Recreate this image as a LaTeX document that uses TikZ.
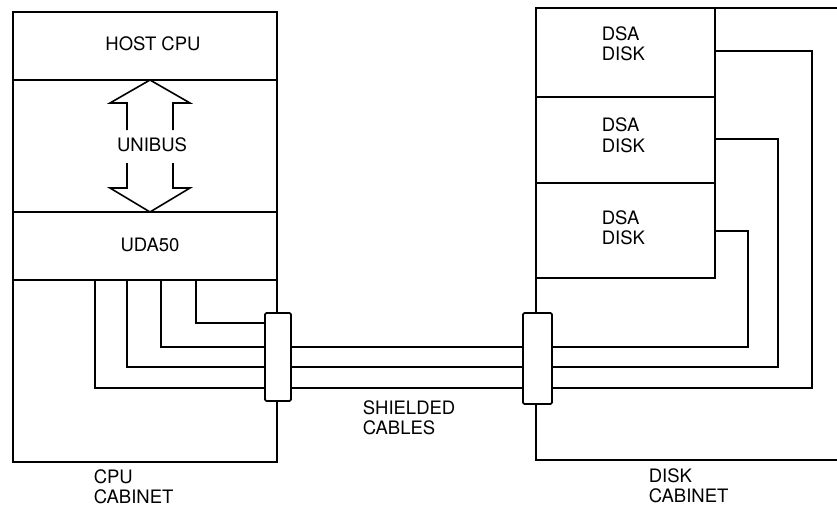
\documentclass[tikz,border=0pt]{standalone}
\usepackage{fontspec}
\setmainfont{TeX Gyre Heros}
\begin{document}
\begin{tikzpicture}[x=1pt,y=-1pt,line width=1.6pt,line join=miter,
  box/.style={draw,rectangle,inner sep=0pt,outer sep=0pt,anchor=north west},
  plug/.style={box,fill=white,rounded corners=1.5pt},
  lbl/.style={font=\fontsize{18.5}{20.5}\selectfont,inner sep=0pt,align=left},
  cable/.style={draw,line width=1.6pt}]
\useasboundingbox (0,0) rectangle (837,508);
% CPU cabinet
\node[box,minimum width=264,minimum height=450] (cpucab) at (13,12) {};
\node[box,minimum width=264,minimum height=68] (hostcpu) at (13,12) {};
\node[box,minimum width=264,minimum height=132] (unibus) at (13,80) {};
\node[box,minimum width=264,minimum height=68] (uda) at (13,212) {};
% Disk cabinet
\node[box,minimum width=330,minimum height=452] (diskcab) at (536,8) {};
\node[box,minimum width=179,minimum height=89] (disk1) at (536,8) {};
\node[box,minimum width=179,minimum height=86] (disk2) at (536,97) {};
\node[box,minimum width=179,minimum height=95] (disk3) at (536,183) {};
% connectors (positions)
\node[plug,minimum width=26,minimum height=88] (conn1) at (265,313) {};
\node[plug,minimum width=29,minimum height=91] (conn2) at (523,313) {};
% cables
\path[cable] (uda.south -| 95,0) |- (conn1.west |- 0,388);
\path[cable] (uda.south -| 127,0) |- (conn1.west |- 0,367);
\path[cable] (uda.south -| 161,0) |- (conn1.west |- 0,347);
\path[cable] (uda.south -| 196,0) |- (conn1.west |- 0,323);
\path[cable] (conn1.east |- 0,388) -- (conn2.west |- 0,388);
\path[cable] (conn1.east |- 0,367) -- (conn2.west |- 0,367);
\path[cable] (conn1.east |- 0,347) -- (conn2.west |- 0,347);
\path[cable] (conn2.east |- 0,388) -| (812,51) -- (disk1.east |- 0,51);
\path[cable] (conn2.east |- 0,367) -| (778,139) -- (disk2.east |- 0,139);
\path[cable] (conn2.east |- 0,347) -| (748,231) -- (disk3.east |- 0,231);
% connectors drawn on top
\node[plug,minimum width=26,minimum height=88] at (265,313) {};
\node[plug,minimum width=29,minimum height=91] at (523,313) {};
% UNIBUS double arrow
\draw (127,130) -- (127,103) -- (110,103) -- (150,80) -- (190,103) -- (173,103) -- (173,130);
\draw (127,163) -- (127,188) -- (110,188) -- (150,212) -- (190,188) -- (173,188) -- (173,163);
% labels
\node[lbl] (thost) at (153,44) {HOST CPU};
\node[lbl] (tunibus) at (152,145) {UNIBUS};
\node[lbl] (tuda) at (150,245) {UDA50};
\node[lbl,anchor=west] (tcpucab) at (93,487) {CPU\\CABINET};
\node[lbl,anchor=west] (tshield) at (362,418) {SHIELDED\\CABLES};
\node[lbl,anchor=west] (tdiskcab) at (648,486) {DISK\\CABINET};
\node[lbl,anchor=west] (td1) at (601,44) {DSA\\DISK};
\node[lbl,anchor=west] (td2) at (601,135.5) {DSA\\DISK};
\node[lbl,anchor=west] (td3) at (601,228) {DSA\\DISK};
\end{tikzpicture}
\end{document}
